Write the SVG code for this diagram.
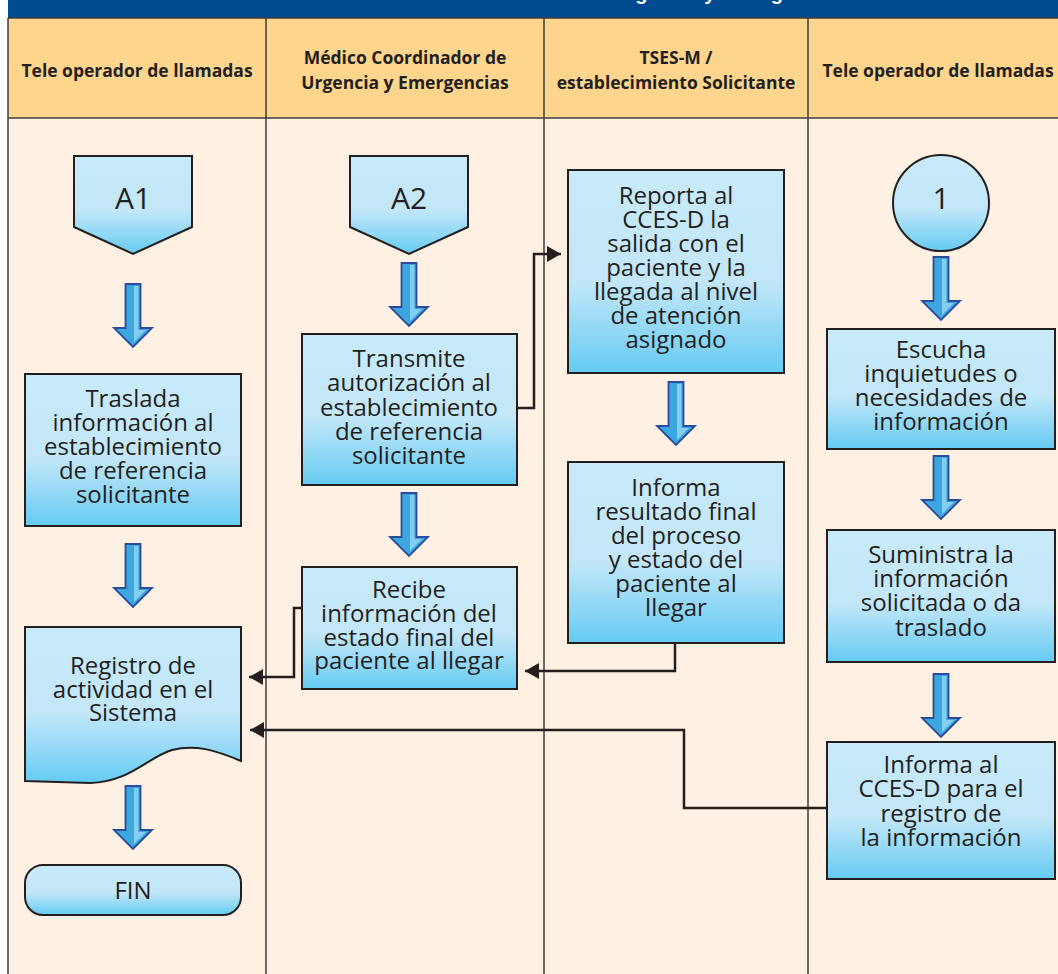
<svg xmlns="http://www.w3.org/2000/svg" width="1058" height="974" viewBox="0 0 1058 974">
<defs>
<linearGradient id="boxg" x1="0" y1="0" x2="0" y2="1">
<stop offset="0" stop-color="#C8EAF9"/>
<stop offset="0.55" stop-color="#C3E7F8"/>
<stop offset="1" stop-color="#66CBF3"/>
</linearGradient>
<linearGradient id="arrg" x1="0" y1="0" x2="1" y2="0">
<stop offset="0" stop-color="#3AA4DC"/>
<stop offset="1" stop-color="#3AA4DC"/>
</linearGradient>
<g id="barrow">
<path d="M-7.5,0 H7.5 V44 H19 L0,63 L-19,44 H-7.5 Z" fill="#3CA7DE" stroke="#2B4C9C" stroke-width="1.8" stroke-linejoin="miter"/>
<path d="M1,2 H5.5 V46 H13 L1,58 Z" fill="#8FD3F3" opacity="0.85"/>
</g>
<marker id="ah" markerUnits="userSpaceOnUse" markerWidth="15" markerHeight="16" refX="14" refY="8" orient="auto">
<path d="M0,0 L14,8 L0,16 Z" fill="#231F20"/>
</marker>
</defs>
<style>
.box{fill:url(#boxg);stroke:#231F20;stroke-width:2}
.t{font-family:"Open Sans","Noto Sans",sans-serif;font-size:24px;fill:#231F20;text-anchor:middle}
.big{font-size:30px}
.h{font-family:"Open Sans","Noto Sans",sans-serif;font-size:17.5px;font-weight:bold;fill:#231F20;text-anchor:middle}
.ln{fill:none;stroke:#231F20;stroke-width:2.5}
.grid{stroke:#3C3C3C;stroke-width:1.5;fill:none}
</style>
<rect x="0" y="0" width="1058" height="974" fill="#FFFFFF"/>
<g id="background">
<rect x="8" y="0" width="1050" height="18" fill="#024A90"/>
<text x="613" y="0" font-family="'Liberation Sans',Arial,sans-serif" font-size="20" font-weight="bold" fill="#FFFFFF">Urgencia y Emergencias</text>
<rect x="8" y="18" width="1050" height="100" fill="#FED58C"/>
<rect x="8" y="118" width="1050" height="856" fill="#FEF0E2"/>
<line class="grid" x1="8" y1="18" x2="1058" y2="18"/>
<line class="grid" x1="8" y1="118" x2="1058" y2="118"/>
<line class="grid" x1="8" y1="18" x2="8" y2="974"/>
<line class="grid" x1="266" y1="18" x2="266" y2="974"/>
<line class="grid" x1="544" y1="18" x2="544" y2="974"/>
<line class="grid" x1="808" y1="18" x2="808" y2="974"/>
</g>
<g id="headers">
<text class="h" x="137" y="77">Tele operador de llamadas</text>
<text class="h" x="405" y="64">Médico Coordinador de</text>
<text class="h" x="405" y="89">Urgencia y Emergencias</text>
<text class="h" x="676" y="64">TSES-M /</text>
<text class="h" x="676" y="89">establecimiento Solicitante</text>
<text class="h" x="938" y="77">Tele operador de llamadas</text>
</g>
<g id="flow-arrows">
<use href="#barrow" x="133" y="284"/>
<use href="#barrow" x="133" y="544"/>
<use href="#barrow" x="133" y="786"/>
<use href="#barrow" x="409" y="263"/>
<use href="#barrow" x="409" y="493"/>
<use href="#barrow" x="676" y="382"/>
<use href="#barrow" x="941" y="257"/>
<use href="#barrow" x="941" y="456"/>
<use href="#barrow" x="941" y="674"/>
</g>
<g id="connectors">
<path class="ln" d="M517,408 H534 V254 H561" marker-end="url(#ah)"/>
<path class="ln" d="M675,643 V671 H525" marker-end="url(#ah)"/>
<path class="ln" d="M302,608 H294 V677 H249" marker-end="url(#ah)"/>
<path class="ln" d="M827,808 H684 V730 H250" marker-end="url(#ah)"/>
</g>
<g id="A1">
<path class="box" d="M74,156 H192 V227 L133,254 L74,227 Z"/>
<text class="t big" x="133" y="209">A1</text>
</g>
<g id="A2">
<path class="box" d="M350,156 H468 V227 L409,254 L350,227 Z"/>
<text class="t big" x="409" y="209">A2</text>
</g>
<g id="C1">
<circle class="box" cx="941" cy="203" r="48"/>
<text class="t big" x="941" y="209">1</text>
</g>
<g id="traslada">
<rect class="box" x="25" y="374" width="216" height="152"/>
<text class="t" x="133" y="407">Traslada</text>
<text class="t" x="133" y="431">información al</text>
<text class="t" x="133" y="455">establecimiento</text>
<text class="t" x="133" y="479">de referencia</text>
<text class="t" x="133" y="503">solicitante</text>
</g>
<g id="registro">
<path class="box" d="M25,627 H241 V761 C215,750 195,744 172,750 C148,757 130,782 90,783 L25,781 Z"/>
<text class="t" x="133" y="674">Registro de</text>
<text class="t" x="133" y="698">actividad en el</text>
<text class="t" x="133" y="721">Sistema</text>
</g>
<g id="fin">
<rect class="box" x="25" y="865" width="216" height="50" rx="18"/>
<text class="t" x="133" y="899">FIN</text>
</g>
<g id="transmite">
<rect class="box" x="302" y="334" width="215" height="151"/>
<text class="t" x="409" y="367">Transmite</text>
<text class="t" x="409" y="391">autorización al</text>
<text class="t" x="409" y="416">establecimiento</text>
<text class="t" x="409" y="440">de referencia</text>
<text class="t" x="409" y="464">solicitante</text>
</g>
<g id="recibe">
<rect class="box" x="302" y="567" width="215" height="122"/>
<text class="t" x="409" y="598">Recibe</text>
<text class="t" x="409" y="622">información del</text>
<text class="t" x="409" y="646">estado final del</text>
<text class="t" x="409" y="669">paciente al llegar</text>
</g>
<g id="reporta">
<rect class="box" x="568" y="170" width="216" height="203"/>
<text class="t" x="676" y="204">Reporta al</text>
<text class="t" x="676" y="228">CCES-D la</text>
<text class="t" x="676" y="252">salida con el</text>
<text class="t" x="676" y="276">paciente y la</text>
<text class="t" x="676" y="300">llegada al nivel</text>
<text class="t" x="676" y="324">de atención</text>
<text class="t" x="676" y="348">asignado</text>
</g>
<g id="informa-resultado">
<rect class="box" x="568" y="462" width="216" height="181"/>
<text class="t" x="676" y="496">Informa</text>
<text class="t" x="676" y="520">resultado final</text>
<text class="t" x="676" y="544">del proceso</text>
<text class="t" x="676" y="568">y estado del</text>
<text class="t" x="676" y="592">paciente al</text>
<text class="t" x="676" y="616">llegar</text>
</g>
<g id="escucha">
<rect class="box" x="827" y="329" width="228" height="120"/>
<text class="t" x="941" y="358">Escucha</text>
<text class="t" x="941" y="382">inquietudes o</text>
<text class="t" x="941" y="406">necesidades de</text>
<text class="t" x="941" y="430">información</text>
</g>
<g id="suministra">
<rect class="box" x="827" y="530" width="228" height="132"/>
<text class="t" x="941" y="563">Suministra la</text>
<text class="t" x="941" y="587">información</text>
<text class="t" x="941" y="611">solicitada o da</text>
<text class="t" x="941" y="636">traslado</text>
</g>
<g id="informa-al">
<rect class="box" x="827" y="742" width="228" height="137"/>
<text class="t" x="941" y="773">Informa al</text>
<text class="t" x="941" y="797">CCES-D para el</text>
<text class="t" x="941" y="822">registro de</text>
<text class="t" x="941" y="846">la información</text>
</g>
</svg>
